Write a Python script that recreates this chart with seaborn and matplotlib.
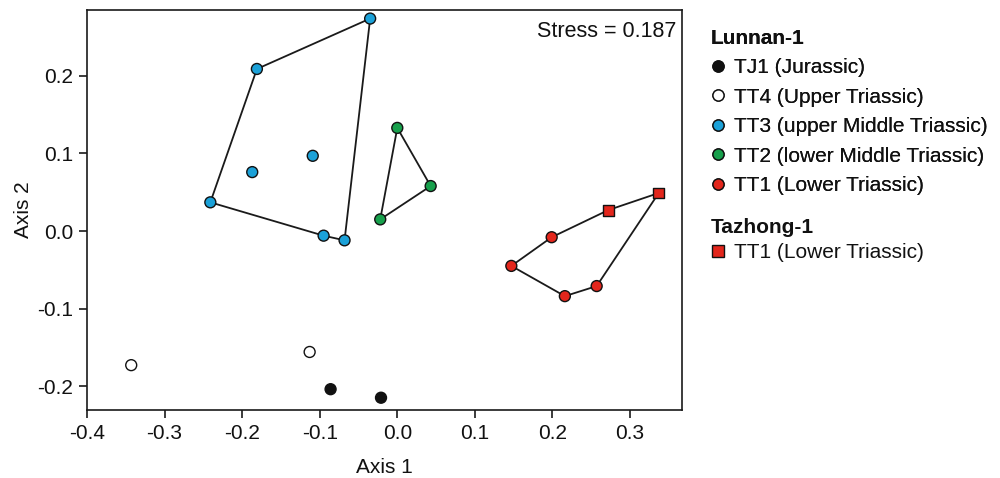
import matplotlib
matplotlib.use("Agg")
import matplotlib.pyplot as plt
from matplotlib.lines import Line2D
import pandas as pd
import numpy as np
import seaborn as sns

x_tj1 = [-0.086, -0.021]
y_tj1 = [-0.204, -0.215]
x_tt4 = [-0.343, -0.113]
y_tt4 = [-0.173, -0.156]
x_tt3 = [-0.035, -0.181, -0.187, -0.109, -0.241, -0.095, -0.068]
y_tt3 = [0.274, 0.209, 0.076, 0.097, 0.037, -0.006, -0.012]
x_tt2 = [0.000, 0.043, -0.022]
y_tt2 = [0.133, 0.058, 0.015]
x_tt1 = [0.147, 0.199, 0.216, 0.257]
y_tt1 = [-0.045, -0.008, -0.084, -0.071]
x_tz = [0.272, 0.337]
y_tz = [0.027, 0.049]

etiquetas = {
    "TJ1": "TJ1 (Jurassic)",
    "TT4": "TT4 (Upper Triassic)",
    "TT3": "TT3 (upper Middle Triassic)",
    "TT2": "TT2 (lower Middle Triassic)",
    "TT1": "TT1 (Lower Triassic)",
    "TT1_TZ": "TT1 (Lower Triassic)",
}
colores = {"TJ1": "#111111", "TT4": "#ffffff", "TT3": "#1ba1d8",
           "TT2": "#17a04c", "TT1": "#e3261c", "TT1_TZ": "#e3261c"}

filas = []
for g, xs, ys, pozo in [("TJ1", x_tj1, y_tj1, "Lunnan-1"), ("TT4", x_tt4, y_tt4, "Lunnan-1"),
                        ("TT3", x_tt3, y_tt3, "Lunnan-1"), ("TT2", x_tt2, y_tt2, "Lunnan-1"),
                        ("TT1", x_tt1, y_tt1, "Lunnan-1"), ("TT1_TZ", x_tz, y_tz, "Tazhong-1")]:
    for a, b in zip(xs, ys):
        filas.append({"x": a, "y": b, "grupo": g, "pozo": pozo})
df = pd.DataFrame(filas)


def envolvente(pts):
    # cadena monotona (convex hull)
    pts = sorted(map(tuple, pts))
    def cruz(o, a, b):
        return (a[0]-o[0])*(b[1]-o[1]) - (a[1]-o[1])*(b[0]-o[0])
    inf, sup = [], []
    for p in pts:
        while len(inf) >= 2 and cruz(inf[-2], inf[-1], p) <= 0:
            inf.pop()
        inf.append(p)
    for p in reversed(pts):
        while len(sup) >= 2 and cruz(sup[-2], sup[-1], p) <= 0:
            sup.pop()
        sup.append(p)
    h = inf[:-1] + sup[:-1]
    return np.array(h + [h[0]])


sns.set_theme(style="white")
plt.rcParams['font.family'] = ['Liberation Sans', 'DejaVu Sans']
plt.rcParams['text.color'] = '#111111'
plt.rcParams['axes.labelcolor'] = '#111111'
plt.rcParams['xtick.color'] = '#111111'
plt.rcParams['ytick.color'] = '#111111'
plt.rcParams['legend.labelcolor'] = '#111111'

fig = plt.figure(figsize=(10, 4.78), dpi=100)
ax = fig.add_axes([0.087, 0.142, 0.595, 0.837])

# poligonos
for sel in [df[df.grupo == "TT3"], df[df.grupo == "TT2"], df[df.grupo.isin(["TT1", "TT1_TZ"])]]:
    h = envolvente(sel[["x", "y"]].values)
    ax.plot(h[:, 0], h[:, 1], color="#1a1a1a", lw=1.3, zorder=1)

sns.scatterplot(data=df, x="x", y="y", hue="grupo", palette=colores,
                style="pozo", markers={"Lunnan-1": "o", "Tazhong-1": "s"},
                s=62, edgecolor="#111111", linewidth=1.0, legend=False, ax=ax, zorder=3)

ax.set_xlim(-0.4, 0.367)
ax.set_ylim(-0.231, 0.285)
ax.set_xticks(np.arange(-0.4, 0.31, 0.1))
ax.set_xticklabels(["-0.4", "-0.3", "-0.2", "-0.1", "0.0", "0.1", "0.2", "0.3"])
ax.set_yticks([-0.2, -0.1, 0.0, 0.1, 0.2])
ax.set_yticklabels(["-0.2", "-0.1", "0.0", "0.1", "0.2"])
ax.tick_params(direction="out", length=6, width=1.2, labelsize=15, color="#1a1a1a",
               bottom=True, left=True, pad=4)
for s in ax.spines.values():
    s.set_color("#1a1a1a")
    s.set_linewidth(1.2)
ax.set_xlabel("Axis 1", fontsize=15, labelpad=11)
ax.set_ylabel("Axis 2", fontsize=15, labelpad=3)
ax.text(0.99, 0.973, "Stress = 0.187", transform=ax.transAxes, ha="right", va="top", fontsize=15.5)

# leyendas
def marca(g, m):
    return Line2D([], [], marker=m, ls="", markersize=8, markerfacecolor=colores[g],
                  markeredgecolor="#111111", markeredgewidth=1.0)

h1 = [marca(g, "o") for g in ["TJ1", "TT4", "TT3", "TT2", "TT1"]]
l1 = [etiquetas[g] for g in ["TJ1", "TT4", "TT3", "TT2", "TT1"]]
leg1 = fig.legend(h1, l1, title="Lunnan-1", loc="upper left", bbox_to_anchor=(0.702, 0.957),
                  frameon=False, fontsize=15, handlelength=0.7, handletextpad=0.45,
                  labelspacing=0.5, borderaxespad=0, alignment="left",
                  title_fontproperties={"weight": "bold", "size": 15})
leg2 = fig.legend([marca("TT1_TZ", "s")], [etiquetas["TT1_TZ"]], title="Tazhong-1",
                  loc="upper left", bbox_to_anchor=(0.702, 0.562), frameon=False, fontsize=15,
                  handlelength=0.7, handletextpad=0.45, labelspacing=0.3, borderaxespad=0,
                  alignment="left", title_fontproperties={"weight": "bold", "size": 15})
fig.add_artist(leg1)

fig.savefig("out.png", dpi=100)
